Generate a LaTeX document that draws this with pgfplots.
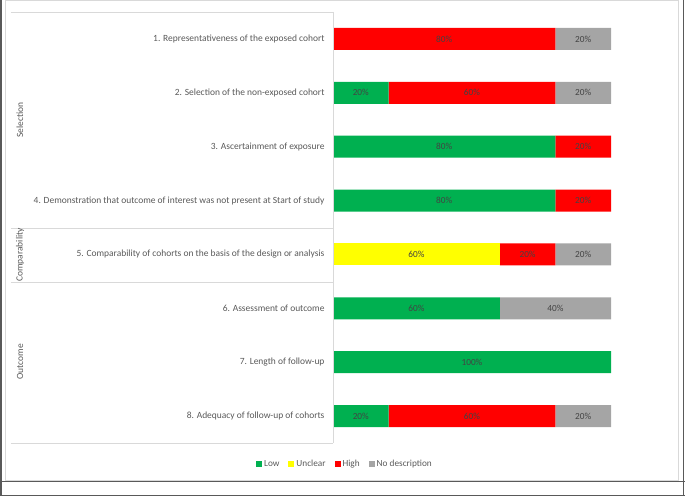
\documentclass[border=0pt]{standalone}
\usepackage{fontspec}
\setmainfont{Carlito}
\usepackage{pgfplots}
\pgfplotsset{compat=1.18}
\definecolor{cLow}{HTML}{00B050}
\definecolor{cUnc}{HTML}{FFFF00}
\definecolor{cHigh}{HTML}{FF0000}
\definecolor{cND}{HTML}{A5A5A5}
\definecolor{txt}{HTML}{595959}
\definecolor{grid}{HTML}{D9D9D9}
\definecolor{frame}{HTML}{595959}
\begin{document}
\begin{tikzpicture}
\begin{axis}[
  scale only axis,
  width=278bp,height=431bp,
  xbar stacked,bar width=22bp,
  xmin=0,xmax=100,ymin=0.5,ymax=8.5,
  y dir=reverse,
  axis line style={draw=none},
  ytick={1,...,8},
  yticklabels={
    1. Representativeness of the exposed cohort,
    2. Selection of the non-exposed cohort,
    3. Ascertainment of exposure,
    4. Demonstration that outcome of interest was not present at Start of study,
    5. Comparability of cohorts on the basis of the design or analysis,
    6. Assessment of outcome,
    7. Length of follow-up,
    8. Adequacy of follow-up of cohorts},
  yticklabel style={font=\fontsize{9.5}{11}\selectfont,text=txt,xshift=-5bp},
  major tick length=0pt,
  xtick=\empty,
  point meta=explicit symbolic,
  nodes near coords,
  every node near coord/.append style={font=\fontsize{9.3}{11}\selectfont,text=txt!75!black},
  legend columns=4,
  legend style={draw=none,fill=none,font=\fontsize{9.3}{11}\selectfont,text=txt,
    at={(0.043,-0.0487)},anchor=center,
    /tikz/every even column/.append style={column sep=7bp}},
  legend image code/.code={\fill[#1] (0bp,-3bp) rectangle (6bp,3bp);},
]
\addplot[fill=cLow,draw=none] coordinates {(0,1) [] (20,2) [20\%] (80,3) [80\%] (80,4) [80\%] (0,5) [] (60,6) [60\%] (100,7) [100\%] (20,8) [20\%]};
\addplot[fill=cUnc,draw=none] coordinates {(0,1) [] (0,2) [] (0,3) [] (0,4) [] (60,5) [60\%] (0,6) [] (0,7) [] (0,8) []};
\addplot[fill=cHigh,draw=none] coordinates {(80,1) [80\%] (60,2) [60\%] (20,3) [20\%] (20,4) [20\%] (20,5) [20\%] (0,6) [] (0,7) [] (60,8) [60\%]};
\addplot[fill=cND,draw=none] coordinates {(20,1) [20\%] (20,2) [20\%] (0,3) [] (0,4) [] (20,5) [20\%] (40,6) [40\%] (0,7) [] (20,8) [20\%]};
\legend{Low,Unclear,High,No description}
\end{axis}
\begin{scope}[x=1bp,y=-1bp,shift={(-333bp,443bp)}]
\useasboundingbox (0,0) rectangle (685,496);
\draw[grid,line width=1bp] (6,0.5) rectangle (678,481);
\draw[grid,line width=0.8bp] (11,12) -- (333,12) (11,228) -- (333,228) (11,282) -- (333,282) (11,443) -- (333,443) (333,12) -- (333,443);
\draw[frame,line width=1.3bp] (1,0) -- (1,496) (683.5,0) -- (683.5,496) (0,481.5) -- (685,481.5) (0,495.3) -- (685,495.3);
\begin{scope}[font=\fontsize{9.5}{10}\selectfont,text=txt]
\node[rotate=90] at (20,120) {Selection};
\node[rotate=90] at (20,255) {Comparability};
\node[rotate=90] at (20,362) {Outcome};
\end{scope}
\end{scope}
\end{tikzpicture}
\end{document}
